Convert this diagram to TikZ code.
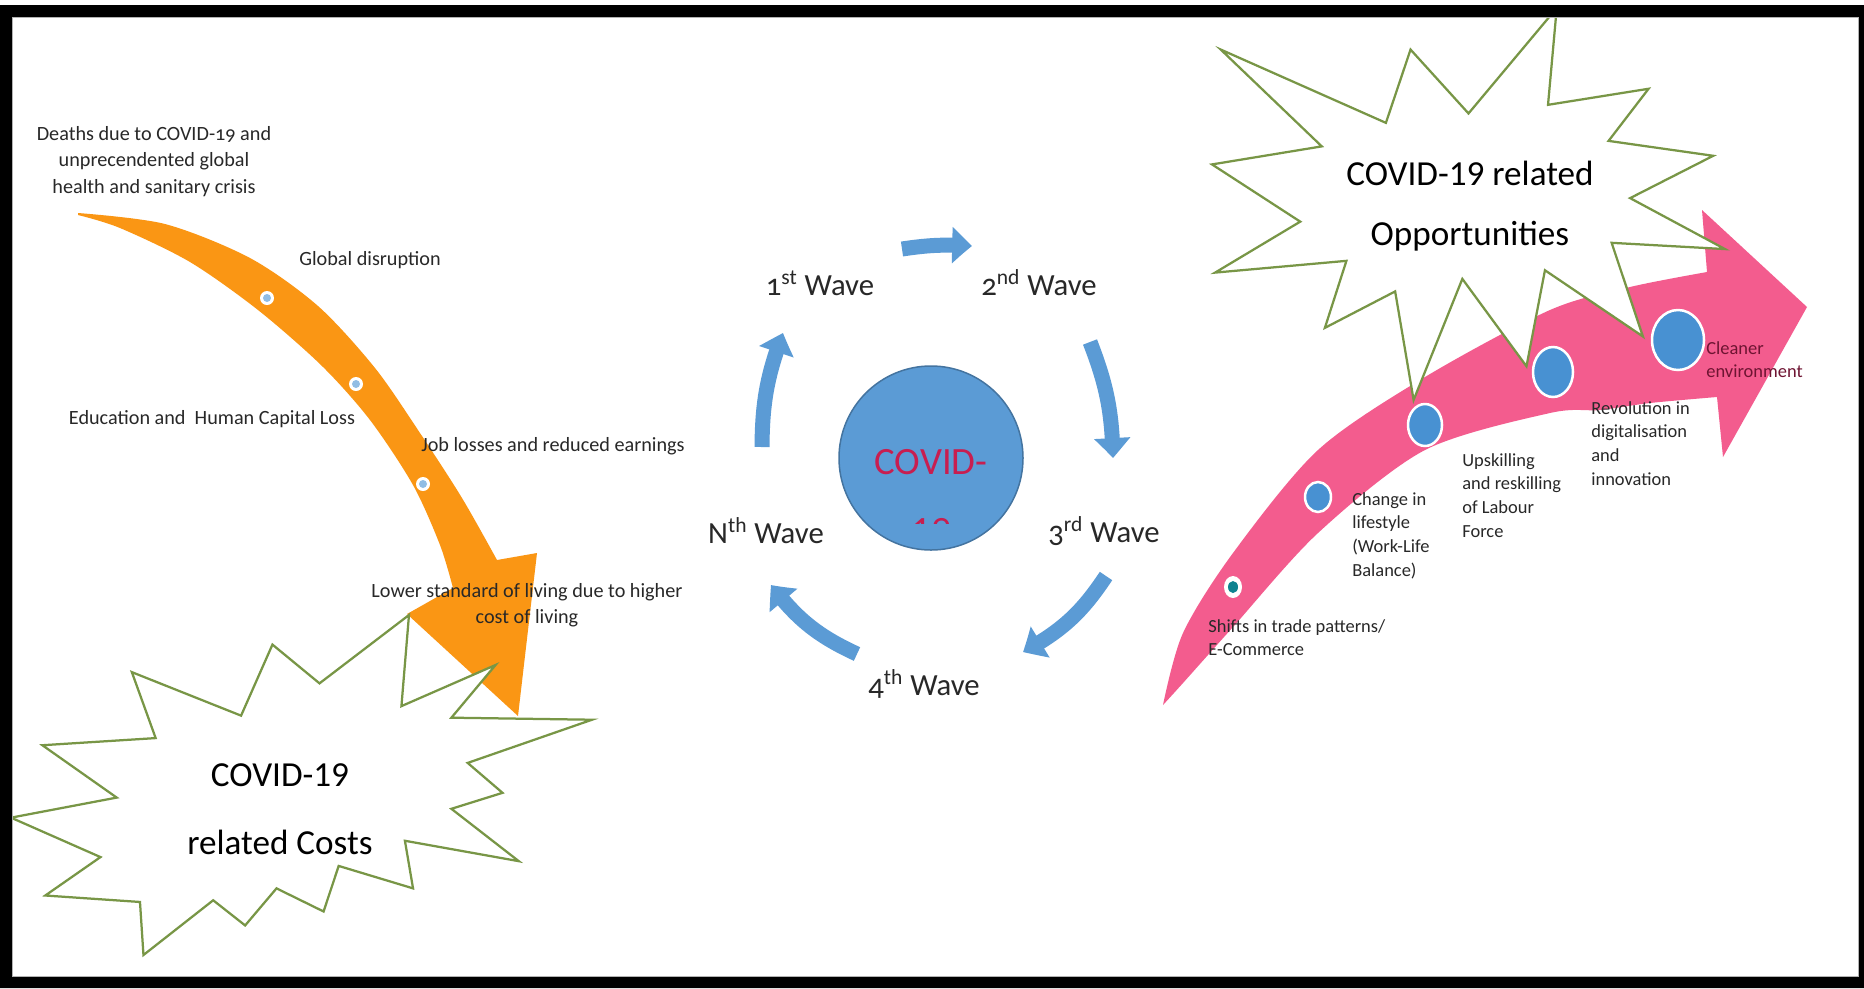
\documentclass[tikz,border=0pt]{standalone}
\usepackage{fontspec}
\setmainfont{Carlito}
\newfontfamily\oldnum[Numbers=OldStyle]{Carlito}
\usetikzlibrary{arrows.meta,bending}
\definecolor{costorange}{RGB}{250,150,20}
\definecolor{opppink}{RGB}{243,92,142}
\definecolor{waveblue}{RGB}{91,155,213}
\definecolor{dotblue}{RGB}{72,145,210}
\definecolor{sealgreen}{RGB}{120,150,70}
\definecolor{covidred}{RGB}{200,30,80}
\definecolor{labelgray}{RGB}{40,40,40}
\definecolor{cleanred}{RGB}{110,20,50}

\begin{document}
\begin{tikzpicture}[x=0.2mm, y=0.2mm,
    seal/.style = {draw = sealgreen, line width = 0.45mm, fill = white, line join = miter},
    costlabel/.style = {font = \fontsize{11.5}{15}\selectfont, text = labelgray, inner sep = 0pt},
    opplabel/.style = {font = \fontsize{10.5}{13.5}\selectfont, text = labelgray, align = left, anchor = north west, inner sep = 0pt},
    wavelabel/.style = {font = \oldnum\fontsize{17.5}{20}\selectfont, text = labelgray},
    wavearrow/.style = {draw = waveblue, line width = 3mm, -{Triangle[width = 7mm, length = 4mm, bend]}},
    covidtext/.style = {font = \fontsize{22}{26}\selectfont, text = covidred}]

    \useasboundingbox (0, 0) rectangle (1864, -988);
    \fill [white] (0, 0) rectangle (1864, -988);

    % costs arrow
    \fill [costorange] plot [smooth] coordinates {(78,-213) (165,-224) (250,-258) (318,-306) (375,-368) (420,-433) (462,-498) (497,-560)}
        -- (537, -553) -- (518, -716) -- (407, -614)
        -- plot [smooth] coordinates {(453,-588) (440,-545) (413,-485) (370,-420) (322,-366) (258,-310) (190,-262) (120,-228) (78,-215)} -- cycle;
    \foreach \p in {(267,-298), (356,-384), (423,-484)} {
        \fill [white] \p circle (7);
        \fill [dotblue!60] \p circle (4);
    }

    \begin{scope}[shift = {(11, -615)}, xscale = 5.81, yscale = -3.40]
        \draw [seal] plot coordinates {(68.5,0) (53.1,20.1) (45.0,8.7) (39.6,29.6) (20.8,16.8) (24.9,36.2) (5.4,38.3)
            (18.2,53.7) (0,59.6) (15.4,71.2) (5.9,82.5) (22.2,84.4) (22.8,100) (34.8,83.9) (40.3,91.3) (45.7,80.4)
            (53.8,87.2) (56.4,73.8) (69.2,80.4) (67.8,66.4) (87.4,72.4) (75.8,57.0) (84.6,52.3) (78.6,43.5)
            (100,30.8) (75.8,30.2) (83.4,14.7) (67.2,26.8)} -- cycle;
    \end{scope}

    % opportunities arrow
    \fill [opppink] plot [smooth] coordinates {(1163,-705) (1183,-633) (1233,-553) (1318,-450) (1425,-377) (1550,-310) (1630,-287) (1707,-272)}
        -- (1702, -210) -- (1807, -307) -- (1723, -457)
        -- plot [smooth] coordinates {(1717,-397) (1650,-403) (1600,-410) (1550,-413) (1425,-450) (1318,-533) (1233,-627) (1183,-683) (1163,-705)} -- cycle;

    \begin{scope}[shift = {(1212, -8)}, xscale = 5.13, yscale = -3.92]
        \draw [seal] plot coordinates {(50,26.9) (67.2,0) (65.5,24.7) (85.1,20.6) (77.3,33.9) (97.7,37.7) (81.5,48.5)
            (100,61.5) (77.9,59.9) (84.0,83.8) (64.9,66.9) (61.3,91.4) (48.8,69.1) (39.3,100) (35.7,72.3) (22.0,81.6)
            (26.2,64.5) (0.6,67.5) (17.2,54.5) (0,39.9) (21.4,35.3) (1.7,10.6) (33.9,29.3) (38.7,10.6)} -- cycle;
    \end{scope}

    \foreach \x/\y/\rx/\ry in {1318/497/13/15, 1425/425/17/21, 1553/372/20/25, 1678/340/26/30} {
        \fill [dotblue, draw = white, line width = 0.5mm] (\x, -\y) ellipse ({\rx} and {\ry});
    }
    \fill [white] (1233, -587) ellipse (9 and 11);
    \fill [teal!80!dotblue] (1233, -587) ellipse (5 and 6);

    % waves
    \node [circle, fill = waveblue, draw = waveblue!75!black, line width = 0.3mm, minimum size = 36.8mm] (core) at (931, -458) {};
    \node [covidtext] (covidword) at (931, -462) {COVID-};
    \begin{scope}
        \clip (870, -515) rectangle (990, -523);
        \node [covidtext] (covidnum) at (931, -531) {19};
    \end{scope}

    \coordinate (a1s) at (902, -249);  \coordinate (a1e) at (972, -246);
    \coordinate (a2s) at (1090, -342); \coordinate (a2e) at (1113, -458);
    \coordinate (a3s) at (1106, -576); \coordinate (a3e) at (1023, -652);
    \coordinate (a4s) at (857, -654);  \coordinate (a4e) at (771, -585);
    \coordinate (a5s) at (762, -447);  \coordinate (a5e) at (783, -333);
    \draw [wavearrow] (a1s) to [bend left = 6] (a1e);
    \draw [wavearrow] (a2s) to [bend left = 10] (a2e);
    \draw [wavearrow] (a3s) to [bend left = 14] (a3e);
    \draw [wavearrow] (a4s) to [bend left = 14] (a4e);
    \draw [wavearrow] (a5s) to [bend left = 10] (a5e);

    \node [wavelabel] (w1) at (820, -283) {1\textsuperscript{st} Wave};
    \node [wavelabel] (w2) at (1039, -283) {2\textsuperscript{nd} Wave};
    \node [wavelabel] (w3) at (1104, -531) {3\textsuperscript{rd} Wave};
    \node [wavelabel] (w4) at (924, -684) {4\textsuperscript{th} Wave};
    \node [wavelabel] (wn) at (766, -531) {N\textsuperscript{th} Wave};

    % labels
    \node [costlabel, align = center, anchor = north] (deaths) at (154, -126) {Deaths due to {\oldnum COVID-19} and\\unprecendented global\\health and sanitary crisis};
    \node [costlabel] (disrupt) at (370, -260) {Global disruption};
    \node [costlabel] (educ) at (212, -419) {Education and~ Human Capital Loss};
    \node [costlabel] (jobs) at (553, -446) {Job losses and reduced earnings};
    \node [costlabel, align = center] (living) at (527, -605) {Lower standard of living due to higher\\cost of living};

    \node [font = \fontsize{20}{38.5}\selectfont, align = center] (costs) at (280, -809) {COVID-19\\related Costs};
    \node [font = \fontsize{20}{34.5}\selectfont, align = center] (opps) at (1470, -206) {COVID-19 related\\Opportunities};

    \node [opplabel] (shifts) at (1208, -619) {Shifts in trade patterns/\\E-Commerce};
    \node [opplabel] (lifestyle) at (1352, -492) {Change in\\lifestyle\\(Work-Life\\Balance)};
    \node [opplabel] (skills) at (1462, -453) {Upskilling\\and reskilling\\of Labour\\Force};
    \node [opplabel] (digital) at (1591, -401) {Revolution in\\digitalisation\\and\\innovation};
    \node [opplabel, text = cleanred] (cleaner) at (1706, -341) {Cleaner\\environment};

    % frame
    \fill [black, even odd rule] (0, -5) rectangle (1864, -988) (12, -17) rectangle (1859, -977);
    \draw [gray!60, line width = 0.3mm] (12.6, -17.6) rectangle (1858.4, -976.4);

\end{tikzpicture}
\end{document}
